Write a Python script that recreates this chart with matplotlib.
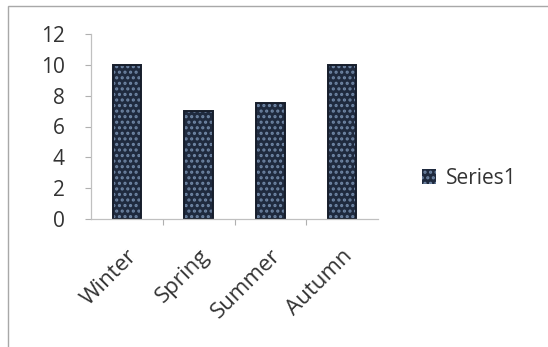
import matplotlib
matplotlib.use("Agg")
import matplotlib.pyplot as plt
from matplotlib.patches import Rectangle

# data
seasons = ["Winter", "Spring", "Summer", "Autumn"]
series1 = [10, 7, 7.5, 10]
yticks = [0, 2, 4, 6, 8, 10, 12]

plt.rcParams['font.family'] = ['Open Sans', 'DejaVu Sans']
plt.rcParams['hatch.linewidth'] = 1.5

fig = plt.figure(figsize=(5.48, 3.47), dpi=100)
ax = fig.add_axes([91 / 548, 1 - 219 / 347, 287 / 548, 185 / 347])

x = range(len(seasons))
bars = ax.bar(x, series1, width=0.4, color='#1f2a3e', edgecolor='#6f86a5',
              hatch='...', linewidth=0, label='Series1')
# dark outline on top of the speckled fill
ax.bar(x, series1, width=0.4, fill=False, edgecolor='#161d2b', linewidth=1.4)

ax.set_xlim(-0.5, len(seasons) - 0.5)
ax.set_ylim(0, 12)
ax.set_yticks(yticks)
ax.set_yticklabels([str(v) for v in yticks], fontsize=15, color='#333333')

ax.set_xticks([i + 0.5 for i in range(len(seasons) - 1)], minor=False)
ax.set_xticklabels([])
ax.set_xticks(list(x), minor=True)
ax.set_xticklabels(seasons, minor=True, rotation=45, ha='right', va='top',
                   rotation_mode='anchor', fontsize=16, color='#333333')
ax.tick_params(axis='x', which='minor', length=0, pad=19)
ax.tick_params(axis='x', which='major', length=4, color='#b0b0b0', direction='out')
ax.tick_params(axis='y', length=4, color='#b0b0b0', direction='out', pad=15)

for side in ['top', 'right']:
    ax.spines[side].set_visible(False)
for side in ['left', 'bottom']:
    ax.spines[side].set_color('#c0c0c0')
    ax.spines[side].set_linewidth(0.9)

# legend
leg = fig.legend(handles=[bars], labels=['Series1'], loc='center left',
                 bbox_to_anchor=(403 / 548, 1 - 178 / 347), frameon=False,
                 fontsize=15, handlelength=0.7, handleheight=0.7, handletextpad=0.45)
for t in leg.get_texts():
    t.set_color('#333333')

# outer chart frame
fig.patches.append(Rectangle((8 / 548, -0.05), 1.05, 1 - 6 / 347 + 0.05,
                             transform=fig.transFigure, fill=False,
                             edgecolor='#a8a8a8', linewidth=1.0))

fig.savefig('out.png', dpi=100)
